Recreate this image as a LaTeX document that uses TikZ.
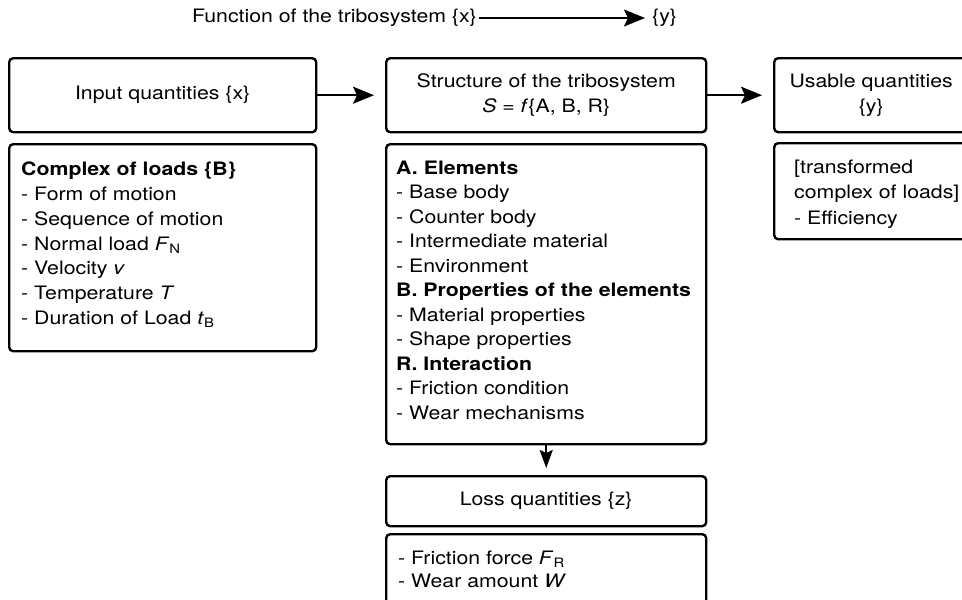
\documentclass[tikz,border=0pt]{standalone}
\usepackage{fontspec}
\setmainfont[FakeStretch=1.15]{TeX Gyre Heros}
\usetikzlibrary{arrows.meta,positioning}
\tikzset{
  box/.style={draw, line width=2.4pt, rounded corners=4pt, anchor=north west, inner sep=0pt, align=center},
  flow/.style={-{Stealth[length=21pt,width=17pt,inset=4pt]}, line width=2pt, shorten >=11pt},
  drop/.style={-{Stealth[length=18pt,width=13pt,inset=3pt]}, line width=2pt, shorten >=7pt},
  heading/.style={inner sep=2pt},
}
\newcommand{\boxtext}[4]{\parbox[c][#2][t]{#1}{\fontsize{18.5}{#3}\selectfont\raggedright #4}}

\begin{document}
\begin{tikzpicture}[x=1pt,y=-1pt,font=\fontsize{18.5}{24.5}\selectfont]
  \useasboundingbox (0,0) rectangle (962,600);
  \clip (0,0) rectangle (962,600);
  \node[heading,anchor=east] (fx) at (479,18) {Function of the tribosystem \{x\}};
  \node[heading,anchor=west] (fy) at (650,18) {\{y\}};
  \node[box,minimum width=307pt,minimum height=74pt] (input) at (8,57) {Input quantities \{x\}};
  \node[box,minimum width=307pt,minimum height=207pt] (loads) at (8,143)
    {\boxtext{283pt}{171pt}{24.7pt}{\textbf{Complex of loads \{B\}}\\
      - Form of motion\\
      - Sequence of motion\\
      - Normal load \textit{F}\textsubscript{N}\\
      - Velocity \textit{v}\\
      - Temperature \textit{T}\\
      - Duration of Load \textit{t}\textsubscript{B}}};
  \node[box,minimum width=320pt,minimum height=74pt] (structure) at (385,57)
    {Structure of the tribosystem\\\textit{S} = \textit{f}\{A, B, R\}};
  \node[box,minimum width=320pt,minimum height=300pt] (elements) at (385,143)
    {\boxtext{300pt}{267pt}{24.5pt}{\textbf{A. Elements}\\
      - Base body\\
      - Counter body\\
      - Intermediate material\\
      - Environment\\
      \textbf{B. Properties of the elements}\\
      - Material properties\\
      - Shape properties\\
      \textbf{R. Interaction}\\
      - Friction condition\\
      - Wear mechanisms}};
  \node[box,minimum width=320pt,minimum height=50pt] (loss) at (385,475) {Loss quantities \{z\}};
  \node[box,minimum width=320pt,minimum height=90pt] (losslist) at (385,533)
    {\boxtext{296pt}{57pt}{23.5pt}{- Friction force \textit{F}\textsubscript{R}\\
      - Wear amount \textit{W}}};
  \node[box,minimum width=194pt,minimum height=74pt] (usable) at (773,57) {Usable quantities\\\{y\}};
  \node[box,minimum width=194pt,minimum height=96pt] (usablelist) at (773,142)
    {\boxtext{154pt}{63pt}{25.5pt}{\mbox{[transformed}\\
      \mbox{complex of loads]}\\
      \mbox{- Efficiency}}};
  \begin{scope}
    \draw[flow,shorten >=5pt] (fx.east) -- (fy.west);
    \draw[flow] (input.east) -- (structure.west);
    \draw[flow] (structure.east) -- (usable.west);
    \draw[drop] (elements.south) -- (loss.north);
  \end{scope}
\end{tikzpicture}
\end{document}
